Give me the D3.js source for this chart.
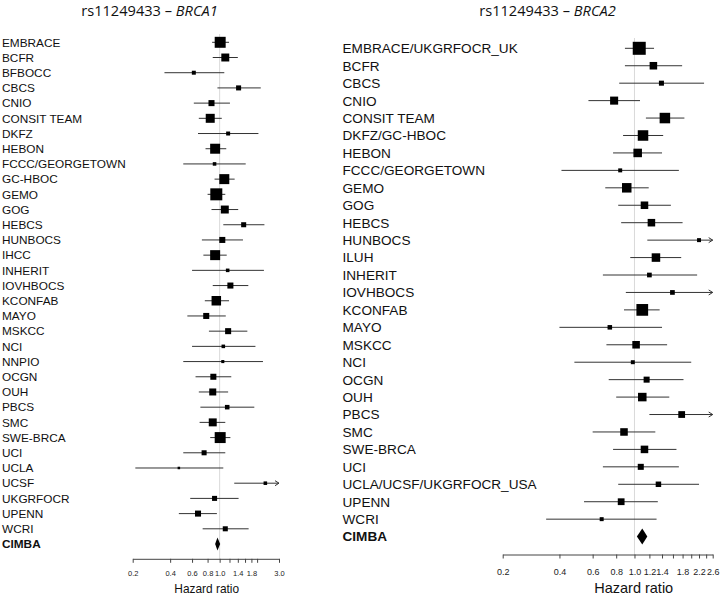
<!DOCTYPE html>
<html>
<head>
<meta charset="utf-8">
<script src="https://cdn.jsdelivr.net/npm/d3@7"></script>
<style>
  html, body { margin: 0; padding: 0; background: #fff; }
  svg { display: block; }
</style>
</head>
<body>
<svg id="chart" width="720" height="596"></svg>
<script>
// ---------- BRCA1 panel data ----------
const studies1 = ["EMBRACE","BCFR","BFBOCC","CBCS","CNIO","CONSIT TEAM","DKFZ","HEBON","FCCC/GEORGETOWN","GC-HBOC","GEMO","GOG","HEBCS","HUNBOCS","IHCC","INHERIT","IOVHBOCS","KCONFAB","MAYO","MSKCC","NCI","NNPIO","OCGN","OUH","PBCS","SMC","SWE-BRCA","UCI","UCLA","UCSF","UKGRFOCR","UPENN","WCRI"];
const hr1 = [1.01,1.11,0.62,1.42,0.86,0.84,1.17,0.92,0.91,1.09,0.94,1.10,1.56,1.05,0.92,1.16,1.22,0.94,0.78,1.17,1.07,1.06,0.89,0.88,1.15,0.88,1.01,0.75,0.47,2.33,0.91,0.67,1.11];
const lo1 = [0.87,0.88,0.36,0.96,0.62,0.68,0.67,0.77,0.51,0.91,0.80,0.86,1.07,0.72,0.74,0.60,0.88,0.76,0.55,0.82,0.60,0.51,0.64,0.68,0.70,0.69,0.84,0.51,0.21,1.31,0.58,0.47,0.73];
const hi1 = [1.19,1.40,1.09,2.14,1.21,1.04,2.05,1.13,1.62,1.32,1.11,1.41,2.29,1.54,1.14,2.27,1.70,1.19,1.12,1.67,1.94,2.23,1.24,1.17,1.90,1.11,1.22,1.11,1.07,4.14,1.42,0.95,1.71];
const weight1 = [7.6,4.0,1.0,1.6,2.3,5.1,1.0,6.3,0.8,6.3,9.1,4.0,1.6,2.3,6.3,0.8,2.3,5.7,2.3,2.3,0.8,0.6,2.3,3.1,1.3,4.0,7.6,1.6,0.4,0.8,1.6,2.3,1.6];
const pooled1 = {name: "CIMBA", hr: 0.96, lo: 0.92, hi: 1.01};
const ticks1 = [0.2,0.4,0.6,0.8,1.0,1.2,1.4,1.6,1.8,2.0,3.0];
const tickLabels1 = ["0.2","0.4","0.6","0.8","1.0","","1.4","","1.8","","3.0"];

// ---------- BRCA2 panel data ----------
const studies2 = ["EMBRACE/UKGRFOCR_UK","BCFR","CBCS","CNIO","CONSIT TEAM","DKFZ/GC-HBOC","HEBON","FCCC/GEORGETOWN","GEMO","GOG","HEBCS","HUNBOCS","ILUH","INHERIT","IOVHBOCS","KCONFAB","MAYO","MSKCC","NCI","OCGN","OUH","PBCS","SMC","SWE-BRCA","UCI","UCLA/UCSF/UKGRFOCR_USA","UPENN","WCRI"];
const hr2 = [1.06,1.26,1.39,0.78,1.45,1.11,1.04,0.84,0.91,1.13,1.23,2.20,1.30,1.20,1.59,1.10,0.74,1.02,0.98,1.16,1.10,1.78,0.88,1.13,1.08,1.34,0.85,0.67];
const lo2 = [0.89,0.89,0.83,0.57,1.15,0.87,0.77,0.41,0.70,0.82,0.85,1.17,0.95,0.68,0.90,0.88,0.40,0.71,0.48,0.73,0.80,1.20,0.60,0.77,0.68,0.82,0.54,0.34];
const hi2 = [1.27,1.79,2.34,1.07,1.84,1.42,1.40,1.72,1.19,1.56,1.80,4.14,1.77,2.15,2.81,1.36,1.40,1.49,2.00,1.82,1.53,2.64,1.29,1.67,1.72,2.20,1.33,1.31];
const weight2 = [10.7,3.6,1.6,4.1,7.0,7.0,4.6,1.0,5.7,3.6,3.6,1.0,4.6,1.4,1.4,8.7,1.3,3.6,1.0,2.3,4.6,2.9,3.6,3.6,2.3,1.9,2.9,1.0];
const pooled2 = {name: "CIMBA", hr: 1.10, lo: 1.03, hi: 1.17};
const ticks2 = [0.2,0.4,0.6,0.8,1.0,1.2,1.4,1.6,1.8,2.0,2.2,2.4,2.6];
const tickLabels2 = ["0.2","0.4","0.6","0.8","1.0","1.2","1.4","","1.8","","2.2","","2.6"];

const svg = d3.select("#chart");
const FONT = "'Liberation Sans', Arial, Helvetica, sans-serif";

function drawPanel(cfg) {
  const g = svg.append("g");
  const rows = cfg.names.concat([cfg.pooled.name]);
  const y = d3.scalePoint().domain(rows).range([cfg.yTop, cfg.yBottom]);
  const x = d3.scaleLog().domain([cfg.ticks[0], cfg.ticks[cfg.ticks.length - 1]]).range([cfg.xLeft, cfg.xRight]);
  const size = d3.scaleSqrt().domain([0, d3.max(cfg.weights)]).range([0, cfg.maxBox]);
  const xMax = x.domain()[1];

  // title
  const t = g.append("text")
    .attr("x", cfg.titleX).attr("y", 15.6)
    .attr("text-anchor", "middle")
    .attr("font-family", "'Open Sans', sans-serif")
    .attr("font-size", 14.6)
    .attr("fill", "#111");
  t.append("tspan").text("rs11249433 \u2013 ");
  t.append("tspan").attr("font-style", "italic").text(cfg.gene);

  // reference line at HR = 1
  g.append("line")
    .attr("x1", x(1)).attr("x2", x(1))
    .attr("y1", cfg.refTop).attr("y2", cfg.axisY)
    .attr("stroke", "#d9d9d9").attr("stroke-width", 1);

  // labels
  g.selectAll("text.lab").data(rows).join("text")
    .attr("class", "lab")
    .attr("x", cfg.labelX).attr("y", d => y(d))
    .attr("dy", "0.36em")
    .attr("font-family", FONT)
    .attr("font-size", cfg.labelSize)
    .attr("font-weight", (d, i) => i === rows.length - 1 ? "bold" : "normal")
    .attr("fill", "#111")
    .text(d => d);

  const data = cfg.names.map((n, i) => ({name: n, hr: cfg.hr[i], lo: cfg.lo[i], hi: cfg.hi[i], w: cfg.weights[i]}));

  // CI lines
  g.selectAll("line.ci").data(data).join("line")
    .attr("class", "ci")
    .attr("x1", d => x(d.lo)).attr("x2", d => x(Math.min(d.hi, xMax)))
    .attr("y1", d => y(d.name)).attr("y2", d => y(d.name))
    .attr("stroke", "#333").attr("stroke-width", 1);

  // arrows for truncated CIs
  const clipped = data.filter(d => d.hi > xMax);
  g.selectAll("path.arrow").data(clipped).join("path")
    .attr("class", "arrow")
    .attr("d", d => {
      const ax = x(xMax), ay = y(d.name);
      return `M${ax - 4},${ay - 2.5}L${ax},${ay}L${ax - 4},${ay + 2.5}`;
    })
    .attr("fill", "none").attr("stroke", "#333").attr("stroke-width", 1);

  // boxes
  g.selectAll("rect.box").data(data).join("rect")
    .attr("class", "box")
    .attr("x", d => x(d.hr) - size(d.w) / 2)
    .attr("y", d => y(d.name) - size(d.w) / 2)
    .attr("width", d => size(d.w)).attr("height", d => size(d.w))
    .attr("fill", "#000");

  // pooled diamond
  const p = cfg.pooled, py = y(p.name), h = cfg.diamondH / 2;
  g.append("path")
    .attr("d", `M${x(p.lo)},${py}L${x(p.hr)},${py - h}L${x(p.hi)},${py}L${x(p.hr)},${py + h}Z`)
    .attr("fill", "#000");

  // axis
  const axis = d3.axisBottom(x)
    .tickValues(cfg.ticks)
    .tickFormat((d, i) => cfg.tickLabels[i])
    .tickSize(4).tickSizeOuter(0).tickPadding(cfg.tickPad);
  const ag = g.append("g").attr("transform", `translate(0,${cfg.axisY})`).call(axis);
  ag.selectAll("path.domain").attr("stroke", "#444");
  ag.selectAll(".tick line").attr("stroke", "#444");
  ag.selectAll(".tick text")
    .attr("font-family", FONT).attr("font-size", cfg.tickSize).attr("fill", "#222");

  g.append("text")
    .attr("x", cfg.xlabX).attr("y", cfg.xlabY)
    .attr("dy", "0.36em")
    .attr("text-anchor", "middle")
    .attr("font-family", FONT)
    .attr("font-size", cfg.xlabSize)
    .attr("fill", "#111")
    .text("Hazard ratio");
}

drawPanel({
  gene: "BRCA1", titleX: 149.5,
  names: studies1, hr: hr1, lo: lo1, hi: hi1, weights: weight1, pooled: pooled1,
  ticks: ticks1, tickLabels: tickLabels1,
  yTop: 42.3, yBottom: 544, xLeft: 132.7, xRight: 279,
  labelX: 2, labelSize: 11.8, maxBox: 12, diamondH: 13,
  axisY: 558.8, refTop: 34, tickPad: 8, tickSize: 7.5,
  xlabX: 206.7, xlabY: 589, xlabSize: 11.9
});

drawPanel({
  gene: "BRCA2", titleX: 547.5,
  names: studies2, hr: hr2, lo: lo2, hi: hi2, weights: weight2, pooled: pooled2,
  ticks: ticks2, tickLabels: tickLabels2,
  yTop: 48.3, yBottom: 536.6, xLeft: 502.7, xRight: 712.7,
  labelX: 342.5, labelSize: 13.6, maxBox: 13, diamondH: 16,
  axisY: 554.5, refTop: 38, tickPad: 10.5, tickSize: 9,
  xlabX: 633.7, xlabY: 587.3, xlabSize: 14.5
});
</script>
</body>
</html>
